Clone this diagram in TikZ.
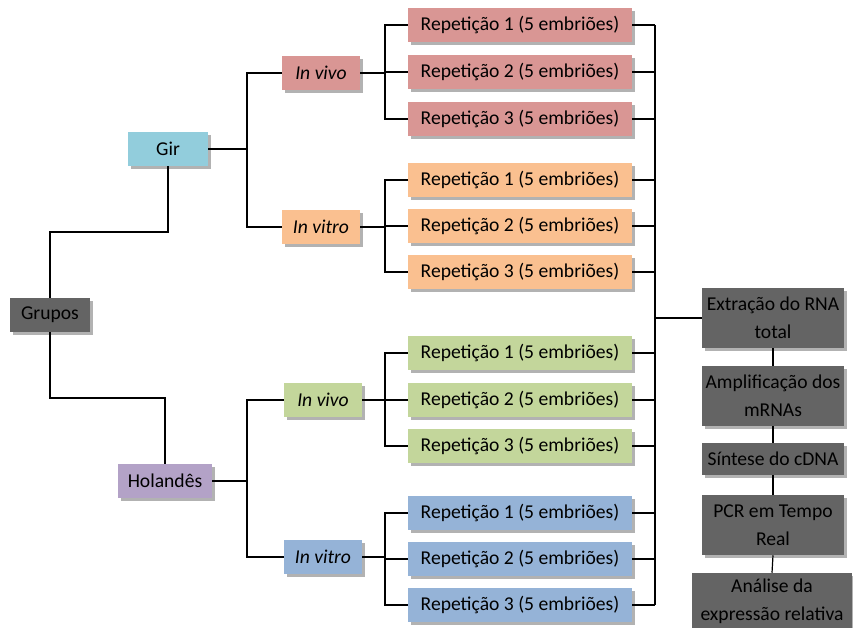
\documentclass[tikz,border=0pt]{standalone}
\usepackage{fontspec}
\setmainfont{Carlito}
\usetikzlibrary{shadows}
\definecolor{cgray}{HTML}{646464}
\definecolor{cgir}{HTML}{92CDDC}
\definecolor{chol}{HTML}{B3A2C7}
\definecolor{cred}{HTML}{D99694}
\definecolor{corange}{HTML}{FAC090}
\definecolor{cgreen}{HTML}{C3D69B}
\definecolor{cblue}{HTML}{95B3D7}
\def\px{0.75pt}
\tikzset{
  box/.style={rectangle, inner sep=0pt, minimum height=34*\px, align=center,
    font=\fontsize{14.7}{21}\selectfont,
    drop shadow={shadow xshift=2.2pt, shadow yshift=-2.2pt, fill=black, opacity=0.3}},
  rep/.style={box, minimum width=224*\px},
  cond/.style={box, minimum width=78*\px},
  dark/.style={box, fill=cgray, minimum width=142*\px, minimum height=60*\px},
  wire/.style={line width=0.9pt, black},
}
\begin{document}
\begin{tikzpicture}[x=\px, y=-\px]
\useasboundingbox (0,0) rectangle (853,628);
% level 0/1
\node[box, fill=cgray, minimum width=80*\px] (grupos) at (50,315) {Grupos};
\node[box, fill=cgir, minimum width=80*\px] (gir) at (168,149) {Gir};
\node[box, fill=chol, minimum width=94*\px] (hol) at (165,481) {Holandês};
% conditions
\node[cond, fill=cred] (gv) at (321,73) {\textit{In vivo}};
\node[cond, fill=corange] (gt) at (321,227) {\textit{In vitro}};
\node[cond, fill=cgreen] (hv) at (323,400) {\textit{In vivo}};
\node[cond, fill=cblue] (ht) at (323,557) {\textit{In vitro}};
% repetitions
\node[rep, fill=cred] (a1) at (520,25) {Repetição 1 (5 embriões)};
\node[rep, fill=cred] (a2) at (520,72) {Repetição 2 (5 embriões)};
\node[rep, fill=cred] (a3) at (520,119) {Repetição 3 (5 embriões)};
\node[rep, fill=corange] (b1) at (520,180) {Repetição 1 (5 embriões)};
\node[rep, fill=corange] (b2) at (520,226) {Repetição 2 (5 embriões)};
\node[rep, fill=corange] (b3) at (520,272) {Repetição 3 (5 embriões)};
\node[rep, fill=cgreen] (c1) at (520,353) {Repetição 1 (5 embriões)};
\node[rep, fill=cgreen] (c2) at (520,400) {Repetição 2 (5 embriões)};
\node[rep, fill=cgreen] (c3) at (520,446) {Repetição 3 (5 embriões)};
\node[rep, fill=cblue] (d1) at (520,513) {Repetição 1 (5 embriões)};
\node[rep, fill=cblue] (d2) at (520,559) {Repetição 2 (5 embriões)};
\node[rep, fill=cblue] (d3) at (520,605) {Repetição 3 (5 embriões)};
% right chain
\node[dark] (ext) at (773,318) {Extração do RNA\\total};
\node[dark] (amp) at (773,396) {Amplificação dos\\mRNAs};
\node[dark, minimum height=32*\px] (sin) at (773,459) {Síntese do cDNA};
\node[dark] (pcr) at (773,525) {PCR em Tempo\\Real};
\node[dark, minimum width=160*\px, minimum height=56*\px] (ana) at (772,601) {Análise da\\expressão relativa};
% junction coordinates
\coordinate (jg) at (247,0);
\coordinate (jt) at (385,0);
\coordinate (bus) at (655,0);
\coordinate (gtop) at (0,232);
\coordinate (gbot) at (0,398);
% grupos to breeds
\draw[wire] (grupos.north) -- (grupos.north |- gtop) -| (gir.south);
\draw[wire] (grupos.south) -- (grupos.south |- gbot) -| (hol.north);
% breeds to conditions
\draw[wire] (gir.east) -- (gir.east -| jg);
\draw[wire] (gv.west) -- (gv.west -| jg) -- (gt.west -| jg) -- (gt.west);
\draw[wire] (hol.east) -- (hol.east -| jg);
\draw[wire] (hv.west) -- (hv.west -| jg) -- (ht.west -| jg) -- (ht.west);
% conditions to repetitions
\foreach \c/\r in {gv/a, gt/b, hv/c, ht/d}{
  \draw[wire] (\c.east) -- (\c.east -| jt);
  \draw[wire] (\r1.west) -- (\r1.west -| jt) -- (\r3.west -| jt) -- (\r3.west);
  \draw[wire] (\r2.west) -- (\r2.west -| jt);
}
% repetitions to bus
\foreach \r in {a1,a2,a3,b1,b2,b3,c1,c2,c3,d1,d2,d3}{
  \draw[wire] (\r.east) -- (\r.east -| bus);
}
\draw[wire] (a1.east -| bus) -- (d3.east -| bus);
\draw[wire] (ext.west -| bus) -- (ext.west);
% chain
\draw[wire] (ext.south) -- (amp.north);
\draw[wire] (amp.south) -- (sin.north);
\draw[wire] (sin.south) -- (pcr.north);
\draw[wire] (pcr.south) -- (ana.north);
\end{tikzpicture}
\end{document}
